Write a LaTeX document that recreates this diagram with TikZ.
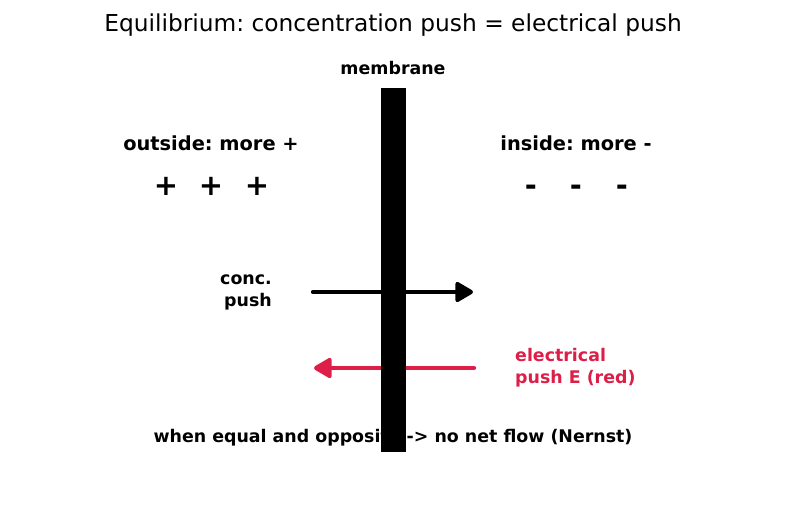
\documentclass[tikz,border=0pt]{standalone}
\usepackage{fontspec}
\setmainfont{DejaVu Sans}
\usetikzlibrary{arrows.meta}
\definecolor{epush}{RGB}{220,30,72}
\frenchspacing

\begin{document}
\begin{tikzpicture}[x=1pt,y=-1pt,
  lbl/.style={font=\bfseries\fontsize{17.4}{22}\selectfont,inner sep=0pt},
  side/.style={font=\bfseries\fontsize{19.4}{22}\selectfont,inner sep=0pt},
  sign/.style={font=\bfseries\fontsize{29}{30}\selectfont,inner sep=0pt,anchor=base},
  push/.style={line width=4.2pt,-{Triangle[length=20pt,width=22pt,round]}}]
\useasboundingbox (0,0) rectangle (787,510);
\node[font=\fontsize{23.3}{26}\selectfont,inner sep=0pt] (title) at (393,25) {Equilibrium: concentration push = electrical push};
\node[lbl] (memlbl) at (393,68) {membrane};
\node[side] (outlbl) at (211,143) {outside: more +};
\node[side] (inlbl) at (576,143) {inside: more -};
\foreach \x [count=\i] in {166,211,257} % charges outside
\node[sign] (plus\i) at (\x,196) {+};
\foreach \x [count=\i] in {531,576,622} % charges inside
\node[sign] (minus\i) at (\x,196) {-};

\node[lbl,align=right,anchor=east] (conclbl) at (272,292) {conc.\\push};
\node[lbl,align=left,anchor=west,text=epush] (elbl) at (515,368) {electrical\\push E (red)};
\node[lbl] (note) at (393,438) {when equal and opposite -> no net flow (Nernst)};

\coordinate (c0) at (313,292);
\coordinate (c1) at (473,292);
\coordinate (e0) at (474,368);
\coordinate (e1) at (314,368);
\draw[push,line cap=round] (c0) -- (c1);
\draw[push,line cap=round,color=epush] (e0) -- (e1);

% membrane on top of everything
\fill[black] (381,88) rectangle (406,452);
\end{tikzpicture}
\end{document}
